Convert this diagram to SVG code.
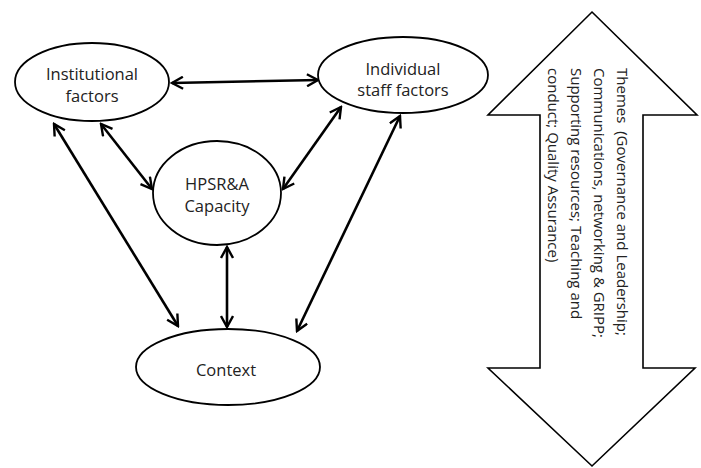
<svg xmlns="http://www.w3.org/2000/svg" width="701" height="468" viewBox="0 0 701 468">
<style>
.node{fill:#fff;stroke:#000;stroke-width:1.8}
.lbl{font-family:"Open Sans","Liberation Sans",sans-serif;font-size:16.5px;fill:#222;text-anchor:middle}
.conn{stroke:#000;stroke-width:2.6;fill:none;marker-start:url(#ah);marker-end:url(#ah)}
.theme{font-family:"Open Sans","Liberation Sans",sans-serif;font-size:15px;fill:#222}
</style>
<defs>
<marker id="ah" viewBox="0 0 14 14" markerWidth="14" markerHeight="14" refX="12" refY="7" orient="auto-start-reverse" markerUnits="userSpaceOnUse">
<path d="M1,1 L12,7 L1,13" fill="none" stroke="#000" stroke-width="2.4" stroke-linejoin="miter"/>
</marker>
</defs>
<rect width="701" height="468" fill="#fff"/>
<g id="themes">
<polygon points="592,12 697,115 643,115 643,368 695,368 592,466 488,368 540,368 540,115 488,115" fill="#fff" stroke="#000" stroke-width="1.6"/>
<g transform="translate(617,68) rotate(90)">
<text class="theme" x="0" y="0" xml:space="preserve">Themes  (Governance and Leadership;</text>
<text class="theme" x="0" y="23">Communications, networking &amp; GRIPP;</text>
<text class="theme" x="0" y="46">Supporting resources; Teaching and</text>
<text class="theme" x="0" y="69">conduct; Quality Assurance)</text>
</g>
</g>
<g id="connectors">
<line class="conn" x1="172" y1="83" x2="318" y2="80"/>
<line class="conn" x1="54" y1="124" x2="178" y2="326"/>
<line class="conn" x1="101" y1="124" x2="152" y2="189"/>
<line class="conn" x1="227" y1="247" x2="227" y2="327"/>
<line class="conn" x1="341" y1="107" x2="283" y2="189"/>
<line class="conn" x1="400" y1="116" x2="297" y2="331"/>
</g>
<g id="institutional">
<ellipse class="node" cx="92" cy="82" rx="77" ry="39"/>
<text class="lbl" x="92" y="80">Institutional</text>
<text class="lbl" x="92" y="102">factors</text>
</g>
<g id="individual">
<ellipse class="node" cx="403" cy="75" rx="85" ry="38"/>
<text class="lbl" x="403" y="75">Individual</text>
<text class="lbl" x="403" y="96">staff factors</text>
</g>
<g id="hpsra">
<ellipse class="node" cx="217" cy="193" rx="64" ry="52"/>
<text class="lbl" x="217" y="190">HPSR&amp;A</text>
<text class="lbl" x="217" y="212">Capacity</text>
</g>
<g id="context">
<ellipse class="node" cx="228" cy="367" rx="92" ry="38"/>
<text class="lbl" x="226" y="376">Context</text>
</g>
</svg>
